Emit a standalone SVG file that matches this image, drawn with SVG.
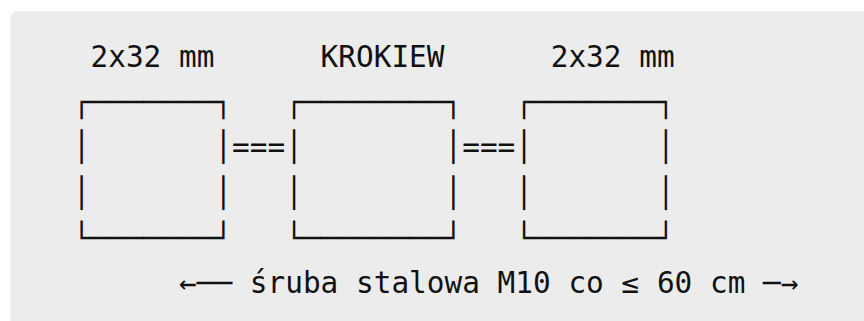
<svg xmlns="http://www.w3.org/2000/svg" width="864" height="321" viewBox="0 0 864 321">
  <style>
    .t { font-family: "DejaVu Sans Mono", "Liberation Mono", monospace; font-size: 29.4px; fill: #111; }
  </style>
  <rect x="0" y="0" width="864" height="321" fill="#ffffff"/>
  <rect x="10.5" y="11" width="870" height="330" rx="6" ry="6" fill="#ececec"/>

  <g id="box-left">
    <text class="t" x="90.5" y="66.7" textLength="123.9" lengthAdjust="spacing">2x32 mm</text>
    <text class="t" x="72.8" y="112" textLength="159.3" lengthAdjust="spacingAndGlyphs">┌───────┐</text>
    <text class="t" x="72.8" y="157.3">│</text>
    <text class="t" x="214.4" y="157.3">│</text>
    <text class="t" x="72.8" y="202.6">│</text>
    <text class="t" x="214.4" y="202.6">│</text>
    <text class="t" x="72.8" y="247.9" textLength="159.3" lengthAdjust="spacingAndGlyphs">└───────┘</text>
  </g>

  <g id="box-krokiew">
    <text class="t" x="320.6" y="66.7" textLength="123.9" lengthAdjust="spacing">KROKIEW</text>
    <text class="t" x="285.2" y="112" textLength="177" lengthAdjust="spacingAndGlyphs">┌────────┐</text>
    <text class="t" x="285.2" y="157.3">│</text>
    <text class="t" x="444.5" y="157.3">│</text>
    <text class="t" x="285.2" y="202.6">│</text>
    <text class="t" x="444.5" y="202.6">│</text>
    <text class="t" x="285.2" y="247.9" textLength="177" lengthAdjust="spacingAndGlyphs">└────────┘</text>
  </g>

  <g id="box-right">
    <text class="t" x="550.7" y="66.7" textLength="123.9" lengthAdjust="spacing">2x32 mm</text>
    <text class="t" x="515.3" y="112" textLength="159.3" lengthAdjust="spacingAndGlyphs">┌───────┐</text>
    <text class="t" x="515.3" y="157.3">│</text>
    <text class="t" x="656.9" y="157.3">│</text>
    <text class="t" x="515.3" y="202.6">│</text>
    <text class="t" x="656.9" y="202.6">│</text>
    <text class="t" x="515.3" y="247.9" textLength="159.3" lengthAdjust="spacingAndGlyphs">└───────┘</text>
  </g>

  <g id="connectors">
    <text class="t" x="232.1" y="157.3" textLength="53.1" lengthAdjust="spacing">===</text>
    <text class="t" x="462.2" y="157.3" textLength="53.1" lengthAdjust="spacing">===</text>
  </g>

  <g id="bolt-note">
    <text class="t" x="179" y="293.2" textLength="53.1" lengthAdjust="spacingAndGlyphs">←──</text>
    <text class="t" x="249.8" y="293.2" textLength="495.6" lengthAdjust="spacing">śruba stalowa M10 co ≤ 60 cm</text>
    <text class="t" x="763.1" y="293.2" textLength="35.4" lengthAdjust="spacingAndGlyphs">─→</text>
  </g>
</svg>
